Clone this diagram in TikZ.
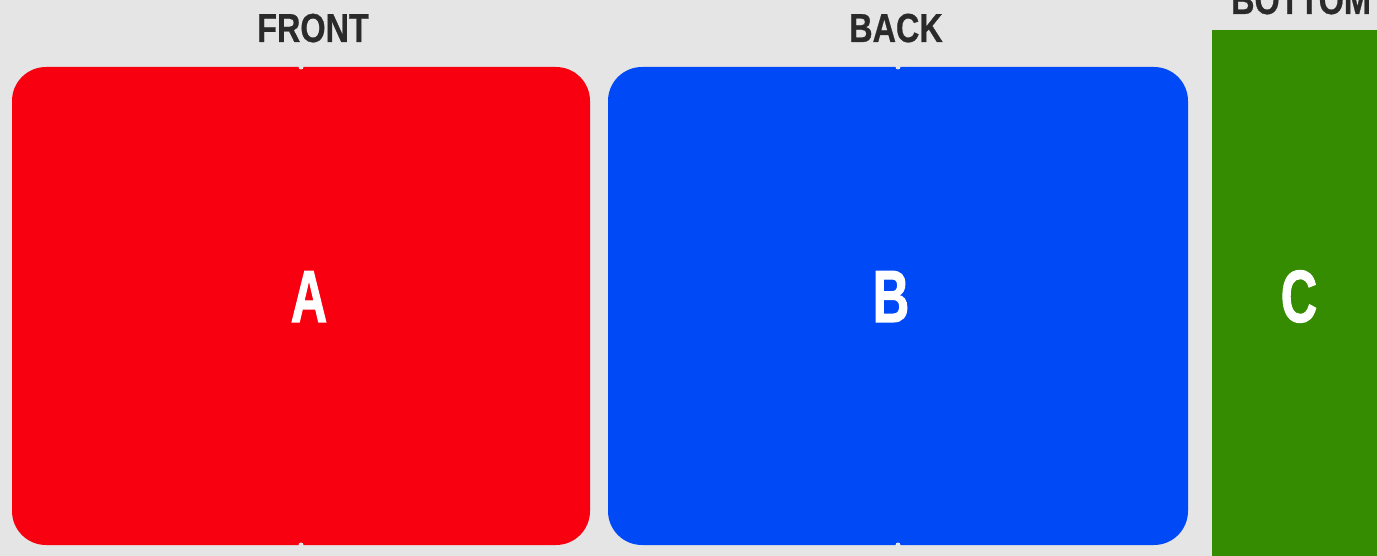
\documentclass[tikz,border=0pt]{standalone}
\usepackage{fontspec}
\newfontfamily\labfont[FakeStretch=0.8,FakeBold=0.6]{Liberation Sans}
\newfontfamily\letfont[FakeStretch=0.68,FakeBold=1.4]{Liberation Sans}
\definecolor{bgc}{HTML}{E5E5E5}
\definecolor{redc}{HTML}{F8000F}
\definecolor{bluec}{HTML}{0049F7}
\definecolor{greenc}{HTML}{368C00}
\definecolor{txtc}{HTML}{2A2A2A}
\tikzset{
  panel/.style={draw=none, rounded corners=34pt, inner sep=0pt, minimum width=#1, minimum height=478pt},
  toplabel/.style={anchor=base, inner sep=0pt, font=\labfont\bfseries\fontsize{40.5}{40.5}\selectfont, text=txtc},
  bigletter/.style={anchor=base, inner sep=0pt, font=\letfont\bfseries\fontsize{74}{74}\selectfont, text=white},
  notch/.style={fill=bgc, draw=none}
}
\begin{document}
\begin{tikzpicture}[x=1pt,y=-1pt]
\useasboundingbox (0,0) rectangle (1377,556);
\fill[bgc] (0,0) rectangle (1377,556);
\node[panel=578pt, fill=redc] (front) at (301,306) {};
\node[panel=580pt, fill=bluec] (back) at (898,306) {};
\fill[greenc] (1212,30) rectangle (1390,570);
\coordinate (bottompanel) at (1300,300);
\fill[notch] (301,67) circle (2.5);
\fill[notch] (301,545) circle (2.5);
\fill[notch] (898,67) circle (2.5);
\fill[notch] (898,545) circle (2.5);
\node[toplabel] (lfront) at (313,42) {FRONT};
\node[toplabel] (lback) at (896,42) {BACK};
\node[toplabel] (lbottom) at (1301,14) {BOTTOM};
\node[bigletter] (la) at (309,322) {A};
\node[bigletter] (lb) at (891,322) {B};
\node[bigletter] (lc) at (1299,322) {C};
\end{tikzpicture}
\end{document}
